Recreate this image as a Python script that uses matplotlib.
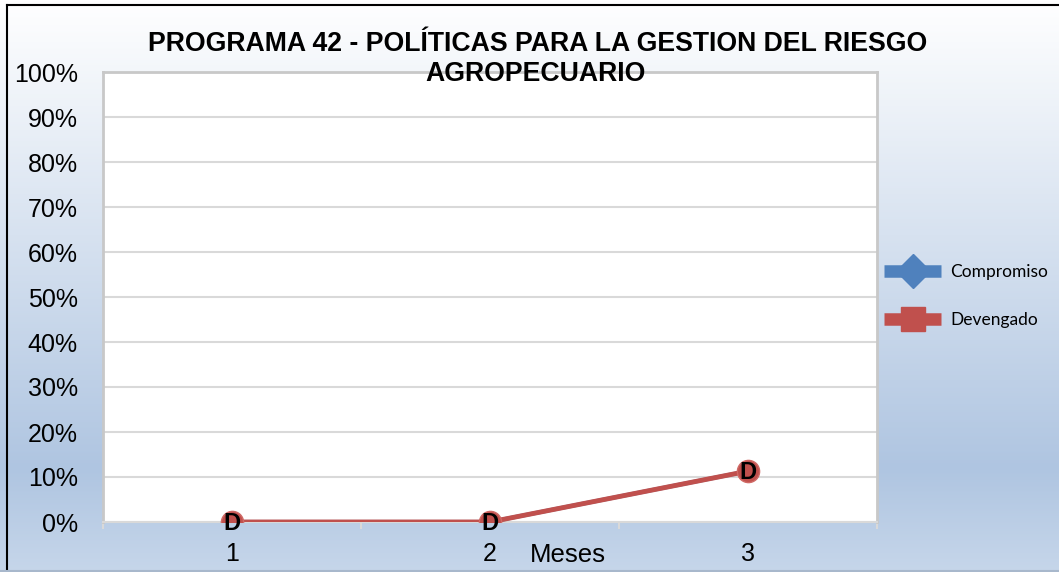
import numpy as np
import matplotlib
matplotlib.use("Agg")
import matplotlib.pyplot as plt
from matplotlib.colors import LinearSegmentedColormap
from matplotlib.lines import Line2D

# data
meses = [1, 2, 3]
compromiso = [0.0, 0.0, 11.3]
devengado = [0.0, 0.0, 11.3]
etiquetas = ["D", "D", "D"]
yticks = list(range(0, 101, 10))

plt.rcParams['font.family'] = ['Liberation Sans', 'DejaVu Sans']

fig = plt.figure(figsize=(10.59, 5.72), dpi=100)

# background gradient
bg = fig.add_axes([0, 0, 1, 1], zorder=-10)
cmap = LinearSegmentedColormap.from_list(
    "bg", [(0, "#c6d6ea"), (0.18, "#afc5e1"), (1, "#ffffff")])
grad = np.linspace(0, 1, 256).reshape(-1, 1)
bg.imshow(grad, aspect="auto", cmap=cmap, origin="lower", extent=[0, 1, 0, 1])
bg.set_xlim(0, 1)
bg.set_ylim(0, 1)
bg.axis("off")
# frame lines
bg.plot([0.0066, 0.0066], [0, 0.991], color="black", lw=1.5)
bg.plot([0.0066, 1], [0.991, 0.991], color="black", lw=1.5)
bg.plot([0, 1], [0.002, 0.002], color="#a8b8cc", lw=1.5)

ax = fig.add_axes([103 / 1059, 1 - 522 / 572, 774 / 1059, 450 / 572])
ax.set_facecolor("white")

ax.plot(meses, compromiso, color="#4f81bd", lw=3, marker="D", ms=9, zorder=3)
ax.plot(meses, devengado, color="#c0504d", lw=3.5, marker="o", ms=16,
        mfc="#c0504d", mec="#d06a66", mew=1, zorder=4)
for x, y, t in zip(meses, devengado, etiquetas):
    ax.text(x, y - 0.3, t, ha="center", va="center", fontsize=17, fontweight="bold",
            color="black", zorder=5, clip_on=False)

ax.set_xlim(0.5, 3.5)
ax.set_ylim(0, 100)
ax.set_yticks(yticks)
ax.set_yticklabels([f"{v}%" for v in yticks], fontsize=18)
ax.set_xticks(meses)
ax.set_xticklabels([str(m) for m in meses], fontsize=18)
ax.set_xticks([0.5, 1.5, 2.5, 3.5], minor=True)
ax.tick_params(axis="x", which="major", length=0, pad=14.5)
ax.tick_params(axis="x", which="minor", length=5, color="#d9d9d9", width=1.5)
ax.tick_params(axis="y", length=0, pad=18)
ax.grid(axis="y", color="#d9d9d9", lw=1.5)
ax.set_axisbelow(True)
for s in ["left", "right", "top"]:
    ax.spines[s].set_color("#c8c8c8")
    ax.spines[s].set_linewidth(2)
ax.spines["bottom"].set_color("#d9d9d9")
ax.spines["bottom"].set_linewidth(1.5)

ax.set_xlabel("Meses", fontsize=18.5)
ax.xaxis.set_label_coords(0.6, -0.046)
ax.xaxis.label.set_va("top")

fig.text(538 / 1059, 1 - 44 / 572, "PROGRAMA 42 - POLÍTICAS PARA LA GESTION DEL RIESGO",
         ha="center", va="center", fontsize=19.2, fontweight="bold")
fig.text(536 / 1059, 1 - 74 / 572, "AGROPECUARIO",
         ha="center", va="center", fontsize=19.2, fontweight="bold")

handles = [
    Line2D([], [], color="#4f81bd", lw=9, marker="D", ms=17, solid_capstyle="butt"),
    Line2D([], [], color="#c0504d", lw=9, marker="s", ms=17, solid_capstyle="butt"),
]
fig.legend(handles, ["Compromiso", "Devengado"], loc="center left",
           bbox_to_anchor=(0.82, 1 - 296 / 572), frameon=False,
           prop={"family": "Lato", "size": 12.5}, handlelength=3.3,
           labelspacing=1.8, handletextpad=0.5)

fig.savefig("out.png", dpi=100)
